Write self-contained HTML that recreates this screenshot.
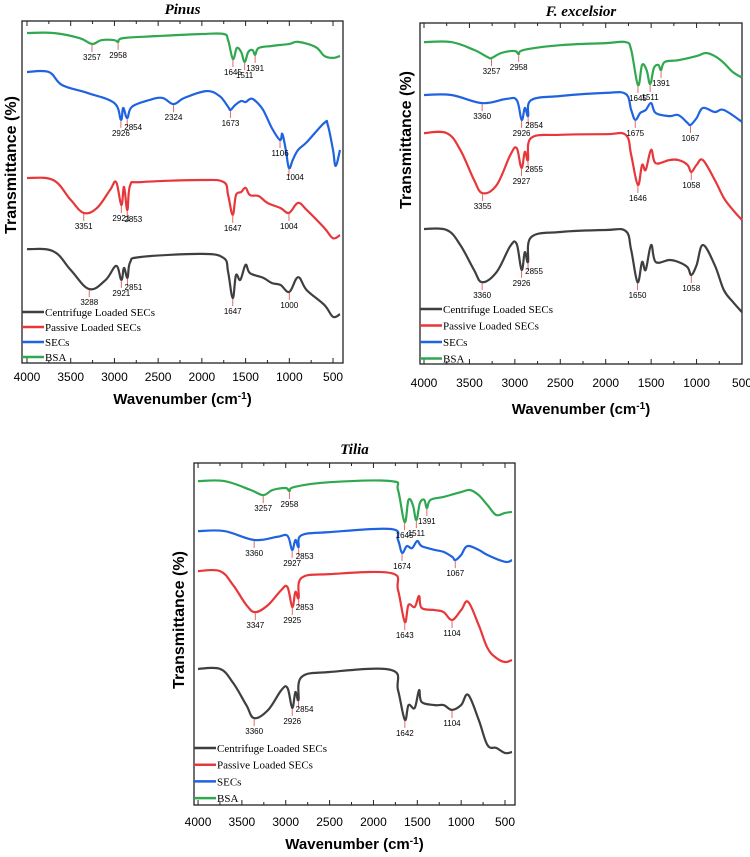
<!DOCTYPE html>
<html><head><meta charset="utf-8"><style>
html,body{margin:0;padding:0;background:#fff;}
svg{display:block;}
</style></head><body>
<svg id="fig" width="750" height="857" viewBox="0 0 750 857" xmlns="http://www.w3.org/2000/svg"></svg>
<script>
// ---- data: [wavenumber, transmittance(a.u.)] ----
const pinusBSA=[[4000,96.5],[3700,96.5],[3400,95.0],[3257,93.3],[3150,94.4],[3000,94.4],[2958,93.9],[2900,95.0],[2500,95.6],[2000,96.2],[1750,96.2],[1700,94.4],[1645,88.9],[1600,92.1],[1550,90.9],[1511,88.0],[1470,90.9],[1420,91.5],[1391,90.1],[1350,92.1],[1200,92.7],[1000,93.3],[900,93.9],[700,92.4],[600,89.8],[500,89.2],[420,89.8]];
const pinusSEC=[[4000,85.1],[3750,85.1],[3600,81.3],[3300,78.9],[3000,76.0],[2926,71.1],[2900,74.6],[2854,71.6],[2800,74.9],[2600,76.9],[2450,77.5],[2324,75.7],[2200,77.5],[1950,79.5],[1800,78.1],[1700,74.9],[1673,74.0],[1620,75.4],[1550,76.6],[1500,76.3],[1450,77.2],[1400,76.9],[1300,74.0],[1200,68.7],[1106,65.2],[1080,67.0],[1040,62.3],[1004,57.0],[960,59.4],[900,62.3],[800,64.6],[600,70.2],[560,69.6],[500,62.3],[470,57.6],[420,62.3]];
const pinusPassive=[[4000,54.1],[3700,53.5],[3500,47.7],[3351,43.9],[3200,45.3],[3050,50.6],[2980,52.9],[2921,46.2],[2890,51.5],[2853,44.7],[2820,52.0],[2700,52.9],[2000,53.5],[1750,52.9],[1700,49.1],[1647,43.3],[1610,49.1],[1550,50.0],[1500,51.2],[1450,49.1],[1350,48.8],[1250,46.8],[1100,45.3],[1004,43.9],[900,46.8],[800,44.7],[600,39.5],[500,36.5],[420,37.4]];
const pinusCentrifuge=[[4000,33.3],[3700,32.7],[3500,27.2],[3288,21.6],[3100,24.3],[2980,28.4],[2921,24.3],[2890,27.8],[2851,24.9],[2820,29.5],[2700,31.0],[2000,31.9],[1750,30.7],[1700,26.6],[1647,19.0],[1610,25.7],[1560,24.3],[1500,28.7],[1450,26.3],[1300,24.9],[1200,23.4],[1100,22.8],[1000,20.8],[900,25.1],[800,21.3],[600,17.0],[500,13.5],[420,14.3]];

const fraxBSA=[[4000,94.4],[3700,94.4],[3450,92.1],[3300,90.0],[3257,89.7],[3150,91.2],[3000,91.8],[2958,90.9],[2900,92.1],[2500,93.5],[2000,94.1],[1780,94.4],[1720,92.1],[1645,81.8],[1600,87.7],[1550,86.2],[1511,82.1],[1470,86.8],[1420,87.7],[1391,86.2],[1350,88.6],[1200,89.1],[1000,90.3],[900,91.2],[800,90.3],[700,88.3],[600,85.6],[500,84.0]];
const fraxSEC=[[4000,78.9],[3700,78.9],[3360,76.5],[3100,77.7],[2980,77.4],[2926,71.6],[2890,75.1],[2854,72.7],[2820,77.4],[2500,78.6],[2000,79.5],[1780,79.2],[1720,74.5],[1675,71.6],[1620,73.6],[1560,74.5],[1500,76.5],[1450,73.6],[1300,72.7],[1200,73.0],[1100,70.7],[1067,70.1],[1000,72.1],[930,75.1],[800,73.9],[700,74.5],[500,71.0]];
const fraxPassive=[[4000,67.7],[3750,67.7],[3600,62.8],[3450,54.0],[3355,50.1],[3200,52.5],[3050,61.3],[2980,63.3],[2927,57.5],[2890,62.2],[2855,59.8],[2820,66.3],[2500,67.2],[2000,67.4],[1780,67.2],[1720,61.3],[1646,52.5],[1600,58.4],[1560,56.9],[1500,62.8],[1450,58.9],[1300,59.8],[1200,59.8],[1100,58.4],[1058,56.3],[1000,58.4],[930,59.8],[800,54.0],[700,48.7],[600,45.2],[500,42.2]];
const fraxCentrifuge=[[4000,39.6],[3750,39.3],[3600,34.9],[3450,27.6],[3360,24.0],[3200,27.0],[3050,34.6],[2980,35.2],[2926,27.6],[2890,32.8],[2855,29.9],[2820,37.2],[2500,38.7],[2000,39.3],[1780,39.0],[1720,33.4],[1650,24.0],[1600,29.9],[1560,27.6],[1500,34.9],[1450,29.9],[1300,30.5],[1200,29.9],[1100,28.4],[1058,26.1],[1000,29.0],[930,34.9],[800,29.0],[700,21.7],[600,18.2],[500,15.2]];

const tiliaBSA=[[4000,94.7],[3700,94.7],[3400,92.1],[3257,90.6],[3150,92.1],[3000,92.7],[2958,91.8],[2900,93.0],[2500,94.4],[1800,94.7],[1720,92.1],[1645,82.7],[1600,89.2],[1550,87.7],[1511,83.3],[1470,88.3],[1420,89.2],[1391,86.8],[1350,89.2],[1200,90.1],[1000,91.5],[900,92.1],[800,90.6],[700,87.7],[600,84.8],[500,85.4],[420,85.7]];
const tiliaSEC=[[4000,80.1],[3700,80.1],[3360,77.5],[3100,78.4],[2980,78.7],[2927,74.6],[2890,77.5],[2853,75.4],[2820,78.9],[2500,79.8],[1800,80.7],[1720,77.5],[1674,73.7],[1620,75.7],[1560,75.1],[1500,77.2],[1450,75.7],[1300,74.6],[1200,74.0],[1100,72.5],[1067,71.6],[1000,73.1],[930,75.7],[800,74.6],[700,73.1],[500,71.1],[420,71.6]];
const tiliaPassive=[[4000,68.4],[3750,68.4],[3600,64.3],[3450,58.5],[3347,56.4],[3200,58.5],[3050,62.9],[2980,63.7],[2925,57.9],[2890,62.3],[2853,60.5],[2820,66.4],[2500,67.5],[1800,67.8],[1720,62.9],[1643,53.5],[1600,58.5],[1530,57.9],[1480,61.1],[1450,57.6],[1300,57.0],[1200,56.4],[1104,54.1],[1000,57.0],[920,59.4],[800,52.6],[700,45.9],[600,43.0],[500,41.8],[420,42.4]];
const tiliaCentrifuge=[[4000,39.8],[3750,39.8],[3600,35.7],[3450,29.2],[3360,25.4],[3200,27.8],[3050,33.6],[2980,34.2],[2926,28.4],[2890,33.0],[2854,30.7],[2820,37.4],[2500,38.9],[1800,39.5],[1720,33.6],[1642,24.9],[1600,29.2],[1530,28.4],[1480,33.6],[1450,30.1],[1300,29.2],[1200,29.2],[1104,27.8],[1000,29.2],[920,32.2],[800,24.9],[700,17.5],[600,16.7],[500,15.2],[420,15.5]];

// peak annotations [wavenumber]
const pinusPeaks=[[3257,2958,1645,1511,1391],[2926,2854,2324,1673,1106,1004],[3351,2921,2853,1647,1004],[3288,2921,2851,1647,1000]];
const fraxPeaks=[[3257,2958,1645,1511,1391],[3360,2926,2854,1675,1067],[3355,2927,2855,1646,1058],[3360,2926,2855,1650,1058]];
const tiliaPeaks=[[3257,2958,1645,1511,1391],[3360,2927,2853,1674,1067],[3347,2925,2853,1643,1104],[3360,2926,2854,1642,1104]];

const xTicks=[4000,3500,3000,2500,2000,1500,1000,500];
const legendNames=["Centrifuge Loaded SECs","Passive Loaded SECs","SECs","BSA"];
const colors={bsa:"#2fa84f",sec:"#1f63e0",passive:"#e8373a",cent:"#3f3f3f"};

const panels=[
 {key:"pinus",title:"Pinus",x0:22,x1:343,y0:21,y1:363,wmax:4057,wmin:386,series:[pinusCentrifuge,pinusPassive,pinusSEC,pinusBSA],peaks:pinusPeaks,ylabX:10,ylabY:165,tickY:381,xlabY:404,titleY:14,legY:312,legStep:15},
 {key:"fraxinus",title:"F. excelsior",x0:420,x1:742,y0:23,y1:364,wmax:4044,wmin:500,series:[fraxCentrifuge,fraxPassive,fraxSEC,fraxBSA],peaks:fraxPeaks,ylabX:405,ylabY:140,tickY:387,xlabY:414,titleY:16,legY:309,legStep:16.5},
 {key:"tilia",title:"Tilia",x0:194,x1:515,y0:463,y1:805,wmax:4046,wmin:386,series:[tiliaCentrifuge,tiliaPassive,tiliaSEC,tiliaBSA],peaks:tiliaPeaks,ylabX:178,ylabY:620,tickY:826,xlabY:849,titleY:454,legY:748,legStep:16.7}
];
const seriesCols=[colors.cent,colors.passive,colors.sec,colors.bsa];
const seriesKeys=["centrifuge","passive","secs","bsa"];

const NS="http://www.w3.org/2000/svg";
const svg=document.getElementById('fig');
function mk(tag,attrs,parent){const e=document.createElementNS(NS,tag);for(const k in attrs)e.setAttribute(k,attrs[k]);(parent||svg).appendChild(e);return e;}

function interp(data,w){
  for(let i=0;i<data.length-1;i++){const a=data[i],b=data[i+1];if(w<=a[0]&&w>=b[0]){const t=(a[0]-w)/(a[0]-b[0]);return a[1]+t*(b[1]-a[1]);}}
  return data[data.length-1][1];
}
function smoothPath(P){
  let d='M'+P[0][0].toFixed(1)+','+P[0][1].toFixed(1);
  const k=0.18;
  for(let i=0;i<P.length-1;i++){
    const p0=P[i-1]||P[i],p1=P[i],p2=P[i+1],p3=P[i+2]||p2;
    const c1x=p1[0]+(p2[0]-p0[0])*k,c1y=p1[1]+(p2[1]-p0[1])*k;
    const c2x=p2[0]-(p3[0]-p1[0])*k,c2y=p2[1]-(p3[1]-p1[1])*k;
    d+=' C'+c1x.toFixed(1)+','+c1y.toFixed(1)+' '+c2x.toFixed(1)+','+c2y.toFixed(1)+' '+p2[0].toFixed(1)+','+p2[1].toFixed(1);
  }
  return d;
}

panels.forEach(p=>{
  const xs=w=>p.x0+(p.wmax-w)/(p.wmax-p.wmin)*(p.x1-p.x0);
  const ys=v=>p.y1-v/100*(p.y1-p.y0);
  const g=mk('g',{});
  
  
  const t=mk('text',{x:(p.x0+p.x1)/2,y:p.titleY,'text-anchor':'middle','font-family':'Liberation Serif, serif','font-style':'italic','font-weight':'bold','font-size':'15'},g);
  t.textContent=p.title;
  
  
  const fr=mk('rect',{x:p.x0,y:p.y0,width:p.x1-p.x0,height:p.y1-p.y0,fill:'none',stroke:'#222','stroke-width':'1.3'},g);
  
  
  for(let w=4000;w>=500;w-=250){
    const x=xs(w);const L=(w%500===0)?5:3;
    mk('line',{x1:x,x2:x,y1:p.y1,y2:p.y1-L,stroke:'#222','stroke-width':'1'},g);
    mk('line',{x1:x,x2:x,y1:p.y0,y2:p.y0+L,stroke:'#222','stroke-width':'1'},g);
  }
  xTicks.forEach(w=>{
    const tl=mk('text',{x:xs(w),y:p.tickY,'text-anchor':'middle','font-family':'Liberation Sans, sans-serif','font-size':'12'},g);
    tl.textContent=w;
    
    
  });
  const xl=mk('text',{x:(p.x0+p.x1)/2,y:p.xlabY,'text-anchor':'middle','font-family':'Liberation Sans, sans-serif','font-weight':'bold','font-size':'15'},g);
  xl.innerHTML='Wavenumber (cm<tspan dy="-5" font-size="10">-1</tspan><tspan dy="5">)</tspan>';
  
  
  const yl=mk('text',{x:0,y:0,transform:`translate(${p.ylabX+6},${p.ylabY}) rotate(-90)`,'text-anchor':'middle','font-family':'Liberation Sans, sans-serif','font-weight':'bold','font-size':'16'},g);
  yl.textContent='Transmittance (%)';
  
  
  p.series.forEach((d,i)=>{
    const P=d.map(q=>[xs(q[0]),ys(q[1])]);
    const pl=mk('path',{d:smoothPath(P),fill:'none',stroke:seriesCols[i],'stroke-width':'2.2','stroke-linejoin':'round'},g);
    
    
  });
  const order=[3,2,1,0];
  p.peaks.forEach((list,j)=>{
    const d=p.series[order[j]];
    list.forEach((w,k)=>{
      const x=xs(w),y=ys(interp(d,w));
      const prev=list[k-1];
      const close=prev!==undefined&&(prev-w)<120;
      const dx=close?6:0,dy=close?-4:0;
      mk('line',{x1:x,x2:x,y1:y+1,y2:y+8,stroke:'#e46a6a','stroke-width':'1'},g);
      const lt=mk('text',{x:x+dx,y:y+16+dy,'text-anchor':'middle','font-family':'Liberation Sans, sans-serif','font-size':'8'},g);
      lt.textContent=w;
      
      
    });
  });
  legendNames.forEach((n,i)=>{
    const y=p.legY+i*p.legStep;
    const ll=mk('line',{x1:p.x0,x2:p.x0+22,y1:y,y2:y,stroke:seriesCols[i],'stroke-width':'2.5'},g);
    
    
    const lt=mk('text',{x:p.x0+23,y:y+4,'font-family':'Liberation Serif, serif','font-size':'11'},g);
    lt.textContent=n;
    
    
  });
});
</script>
</body></html>
